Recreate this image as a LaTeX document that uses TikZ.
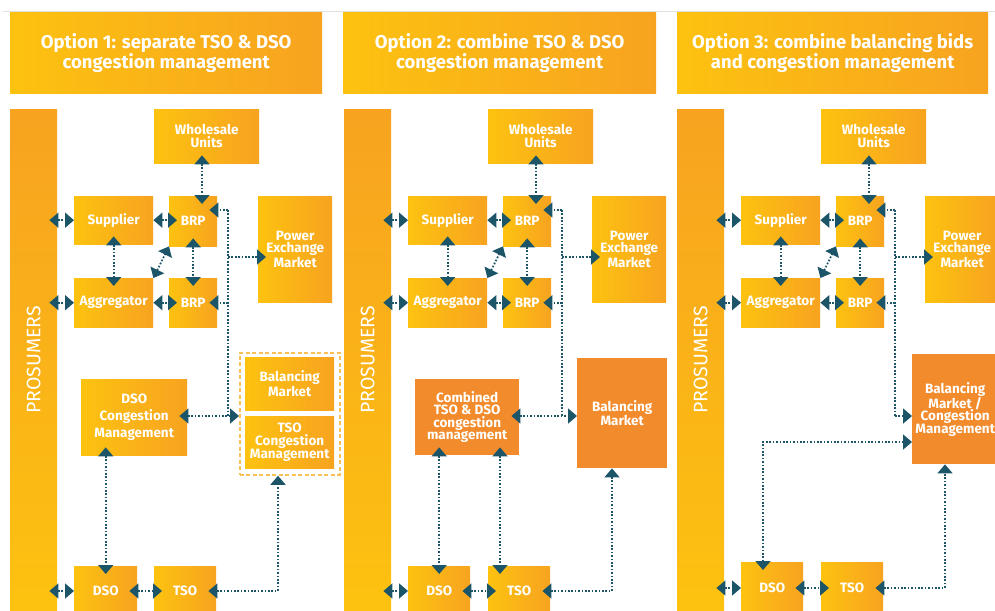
\documentclass[tikz,border=0pt]{standalone}
\usepackage{fontspec}
\setmainfont{Fira Sans}
\newfontfamily\prosfont{Fira Sans}
\usetikzlibrary{arrows.meta}
\definecolor{yelA}{RGB}{253,194,16}
\definecolor{yelB}{RGB}{247,163,32}
\definecolor{orng}{RGB}{242,139,44}
\definecolor{lnkcol}{RGB}{28,84,104}
\definecolor{dashcol}{RGB}{250,192,85}
\tikzset{
  >={Triangle[width=15pt,length=9pt]},
  ybox/.style={rectangle, inner sep=0pt, left color=yelA, right color=yelB, text=white, align=center,
     font=\bfseries\fontsize{13.5}{12.5}\selectfont, anchor=north west},
  obox/.style={rectangle, inner sep=0pt, fill=orng, text=white, align=center,
     font=\bfseries\fontsize{13.5}{12.5}\selectfont, anchor=north west},
  tbox/.style={rectangle, inner sep=0pt, left color=yelA, right color=yelB, text=white, align=center,
     font=\bfseries\fontsize{18.5}{19}\selectfont, anchor=north west},
  pbar/.style={rectangle, inner sep=0pt, top color=yelB, bottom color=yelA, anchor=north west},
  dbox/.style={rectangle, inner sep=0pt, draw=dashcol, line width=1.8pt, dash pattern=on 4pt off 2.5pt, anchor=north west},
  lnk/.style={draw=lnkcol, line width=1.7pt, dash pattern=on 1.7pt off 1.7pt},
  tipin/.style={shorten >=-8pt},
  tailin/.style={shorten <=-8pt},
  topline/.style={draw=black!12, line width=0.8pt},
}
\begin{document}
\begin{tikzpicture}[x=1pt,y=-1pt]
\useasboundingbox (0,0) rectangle (995,610);
\fill[white] (0,0) rectangle (995,610);
\draw[topline] (3,11) -- (995,11);

% titles
\node[tbox, minimum width=312pt, minimum height=81pt] (atitle) at (10,12) {Option 1: separate TSO \& DSO\\congestion management};
\node[tbox, minimum width=313pt, minimum height=81pt] (btitle) at (343,12) {Option 2: combine TSO \& DSO\\congestion management};
\node[tbox, minimum width=311pt, minimum height=81pt] (ctitle) at (677,12) {Option 3: combine balancing bids\\and congestion management};

% common upper part of each panel
\foreach \p/\dx in {a/0,b/334,c/667}{
  \node[pbar, minimum width=47pt, minimum height=501pt] (\p pros) at ({10+\dx},109) {};
  \node[rotate=90, text=white, font=\prosfont\fontsize{19.5}{19}\selectfont] (\p plab) at (\p pros.center) {PROSUMERS};
  \node[ybox, minimum width=105pt, minimum height=54pt] (\p wh) at ({154+\dx},109) {Wholesale\\Units};
  \node[ybox, minimum width=79pt, minimum height=48pt] (\p sup) at ({74+\dx},196) {Supplier};
  \node[ybox, minimum width=48pt, minimum height=50pt] (\p brpa) at ({169+\dx},196) {BRP};
  \node[ybox, minimum width=74pt, minimum height=106pt] (\p px) at ({258+\dx},196) {Power\\Exchange\\Market};
  \node[ybox, minimum width=79pt, minimum height=49pt] (\p agg) at ({74+\dx},278) {Aggregator};
  \node[ybox, minimum width=48pt, minimum height=49pt] (\p brpb) at ({169+\dx},278) {BRP};
  \coordinate (\p ja) at ({228+\dx},210);
  \coordinate (\p jb) at ({228+\dx},416);
  \coordinate (\p jc) at ({228+\dx},257);
  \coordinate (\p wx) at ({202+\dx},196);
  % connectors
  \draw[lnk, <->, tailin] (\p pros.east |- \p sup.west) -- (\p sup.west);
  \draw[lnk, <->, tipin] (\p sup.east) -- (\p sup.east -| \p brpa.west);
  \draw[lnk, <->, tailin] (\p pros.east |- \p agg.west) -- (\p agg.west);
  \draw[lnk, <->, tipin] (\p agg.east) -- (\p agg.east -| \p brpb.west);
  \draw[lnk, <->, tailin, tipin] (\p wx |- \p wh.south) -- (\p wx);
  \draw[lnk, <->, tailin, tipin] (\p sup.south) -- (\p agg.north);
  \draw[lnk, <->, tailin, tipin] (\p brpa.south) -- (\p brpb.north);
  \draw[lnk, <->] (\p agg.north east) -- (\p brpa.south west);
  \draw[lnk] (\p ja) -- (\p jb);
  \draw[lnk, ->, tipin] (\p ja) -- (\p ja -| \p brpa.east);
  \draw[lnk, ->, tipin] (\p ja |- \p agg.east) -- (\p agg.east -| \p brpb.east);
  \draw[lnk, ->, tipin] (\p jc) -- (\p jc -| \p px.west);
}

% ---------- panel 1 lower part
\node[ybox, minimum width=106pt, minimum height=76pt, font=\bfseries\fontsize{13.5}{17}\selectfont] (adcm) at (81,379) {DSO\\Congestion\\Management};
\node[dbox, minimum width=100pt, minimum height=122pt] (abox) at (239,352) {};
\node[ybox, minimum width=89pt, minimum height=53pt] (abm) at (245,357) {Balancing\\Market};
\node[ybox, minimum width=89pt, minimum height=52pt] (atcm) at (245,416) {TSO\\Congestion\\Management};
\node[ybox, minimum width=63pt, minimum height=50pt] (adso) at (74,566) {DSO};
\node[ybox, minimum width=62pt, minimum height=50pt] (atso) at (154,566) {TSO};
\coordinate (ak) at (278,591);
\draw[lnk, <->, tailin] (adcm.east |- ajb) -- (abox.west |- ajb);
\draw[lnk, <->, tailin, tipin] (adso.north |- adcm.south) -- (adso.north);
\draw[lnk, <->, tailin] (apros.east |- ak) -- (adso.west |- ak);
\draw[lnk, <->, tailin, tipin] (adso.east |- ak) -- (atso.west |- ak);
\draw[lnk, <->, tailin] (atso.east |- ak) -- (ak) -- (ak |- abox.south);

% ---------- panel 2 lower part
\node[obox, minimum width=104pt, minimum height=76pt] (bcomb) at (415,379) {Combined\\TSO \& DSO\\congestion\\management};
\node[obox, minimum width=90pt, minimum height=110pt] (bbm) at (577,358) {Balancing\\Market};
\node[ybox, minimum width=62pt, minimum height=50pt] (bdso) at (408,566) {DSO};
\node[ybox, minimum width=62pt, minimum height=50pt] (btso) at (488,566) {TSO};
\coordinate (bk) at (612,591);
\coordinate (bt) at (500,566);
\draw[lnk, <->, tailin] (bcomb.east |- bjb) -- (bbm.west |- bjb);
\draw[lnk, <->, tailin, tipin] (bdso.north |- bcomb.south) -- (bdso.north);
\draw[lnk, <->, tailin, tipin] (bt |- bcomb.south) -- (bt);
\draw[lnk, <->, tailin] (bpros.east |- bk) -- (bdso.west |- bk);
\draw[lnk, <->, tailin, tipin] (bdso.east |- bk) -- (btso.west |- bk);
\draw[lnk, <->, tailin] (btso.east |- bk) -- (bk) -- (bk |- bbm.south);

% ---------- panel 3 lower part
\node[obox, minimum width=86pt, minimum height=110pt] (cbmc) at (912,354) {Balancing\\Market /\\Congestion\\Management};
\node[ybox, minimum width=62pt, minimum height=52pt] (cdso) at (741,562) {DSO};
\node[ybox, minimum width=62pt, minimum height=52pt] (ctso) at (821,562) {TSO};
\coordinate (ck) at (945,588);
\coordinate (cm) at (763,442);
\coordinate (cd) at (763,562);
\draw[lnk, ->] (cjb) -- (cjb -| cbmc.west);
\draw[lnk, <->, tailin] (cd) -- (cm) -- (cm -| cbmc.west);
\draw[lnk, <->, tailin] (cpros.east |- ck) -- (cdso.west |- ck);
\draw[lnk, <->, tailin, tipin] (cdso.east |- ck) -- (ctso.west |- ck);
\draw[lnk, <->, tailin] (ctso.east |- ck) -- (ck) -- (ck |- cbmc.south);
\end{tikzpicture}
\end{document}
